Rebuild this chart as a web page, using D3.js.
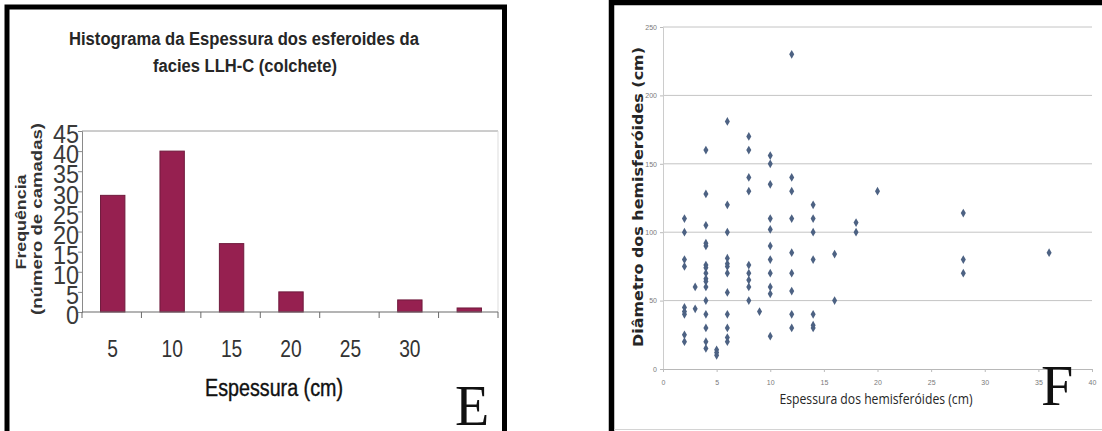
<!DOCTYPE html>
<html>
<head>
<meta charset="utf-8">
<script src="https://cdn.jsdelivr.net/npm/d3@7"></script>
<style>
  body { margin: 0; background: #fff; }
  svg { display: block; }
</style>
</head>
<body>
<svg id="chart" width="1102" height="431"></svg>
<script>
/* global d3: false */

// Panel E: histogram
const histCategories = ['5', '10', '15', '20', '25', '30', ''];
const histCounts = [29, 40, 17, 5, 0, 3, 1];
const histTicks = [0, 5, 10, 15, 20, 25, 30, 35, 40, 45];

// Panel F: scatter (espessura x diametro), one line per thickness column
const scatterThickness = [
  2, 2, 2, 2, 2, 2, 2, 2, 2,
  3, 3,
  4, 4, 4, 4, 4, 4, 4, 4, 4, 4, 4, 4, 4, 4, 4, 4,
  5, 5, 5,
  6, 6, 6, 6, 6, 6, 6, 6, 6, 6, 6, 6,
  8, 8, 8, 8, 8, 8, 8, 8, 8,
  9,
  10, 10, 10, 10, 10, 10, 10, 10, 10, 10, 10,
  12, 12, 12, 12, 12, 12, 12, 12, 12,
  14, 14, 14, 14, 14, 14, 14,
  16, 16,
  18, 18,
  20,
  28, 28, 28,
  36];
const scatterDiameter = [
  110, 100, 80, 75, 45, 42, 40, 25, 20,
  60, 44,
  160, 128, 105, 92, 90, 76, 74, 70, 66, 64, 60, 50, 40, 30, 20, 15,
  14, 12, 10,
  181, 120, 100, 81, 77, 75, 70, 56, 40, 30, 23, 20,
  170, 160, 140, 130, 76, 70, 65, 60, 50,
  42,
  156, 150, 135, 110, 102, 90, 80, 70, 60, 55, 24,
  230, 140, 130, 110, 85, 70, 57, 40, 30,
  120, 110, 100, 80, 40, 32, 30,
  84, 50,
  107, 100,
  130,
  114, 80, 70,
  85];
const scatterXTicks = [0, 5, 10, 15, 20, 25, 30, 35, 40];
const scatterYTicks = [0, 50, 100, 150, 200, 250];

const svg = d3.select('#chart');

// ---------- panel frames ----------
svg.append('rect')
  .attr('x', 7).attr('y', 7)
  .attr('width', 497.5).attr('height', 440)
  .attr('fill', '#fff')
  .attr('stroke', '#000')
  .attr('stroke-width', 5);

svg.append('rect')
  .attr('x', 611.5).attr('y', 2.5)
  .attr('width', 520).attr('height', 460)
  .attr('fill', '#fff')
  .attr('stroke', '#000')
  .attr('stroke-width', 5.5);
svg.append('line')
  .attr('x1', 614).attr('x2', 1102)
  .attr('y1', 429.5).attr('y2', 429.5)
  .attr('stroke', '#d4d4d4');

// ---------- panel E ----------
const ex = d3.scaleBand(histCategories, [82, 498]).padding(0);
const ey = d3.scaleLinear([0, 45], [312, 131]);
const gE = svg.append('g');

// plot frame
gE.append('line')
  .attr('x1', 82).attr('x2', 498)
  .attr('y1', ey(45)).attr('y2', ey(45))
  .attr('stroke', '#9a9a9a');
gE.append('line')
  .attr('x1', 498).attr('x2', 498)
  .attr('y1', ey(45)).attr('y2', ey(0))
  .attr('stroke', '#dddddd');

const barW = ex.bandwidth() * 0.41;
gE.append('g')
  .selectAll('rect')
  .data(histCounts)
  .join('rect')
  .attr('x', (d, i) => ex(histCategories[i]) + ex.bandwidth() / 2 - barW / 2 + 1)
  .attr('y', d => ey(d))
  .attr('width', barW)
  .attr('height', d => ey(0) - ey(d))
  .attr('fill', '#962050')
  .attr('stroke', '#6f1a3c')
  .attr('stroke-width', 1);

// y axis
const yAxisE = gE.append('g')
  .attr('transform', 'translate(82,0)')
  .call(d3.axisLeft(ey).tickValues(histTicks).tickSize(4).tickPadding(3));
yAxisE.select('.domain').attr('stroke', '#8a8a8a');
yAxisE.selectAll('.tick line').attr('stroke', '#8a8a8a');
yAxisE.selectAll('.tick text')
  .attr('font-family', 'Liberation Sans, Arial, sans-serif')
  .attr('font-size', 26)
  .attr('fill', '#3a3a3a')
  .attr('x', -3 / 0.9)
  .attr('dy', '0.45em')
  .attr('transform', 'scale(0.9,1)');

// x axis
const xAxisE = gE.append('g')
  .attr('transform', `translate(0,${ey(0)})`);
xAxisE.append('line')
  .attr('x1', 82).attr('x2', 498)
  .attr('stroke', '#6a6a6a').attr('stroke-width', 1.2);
xAxisE.selectAll('line.bound')
  .data(d3.range(histCategories.length + 1))
  .join('line')
  .attr('class', 'bound')
  .attr('x1', i => ex.range()[0] + i * ex.step())
  .attr('x2', i => ex.range()[0] + i * ex.step())
  .attr('y1', 0).attr('y2', 6)
  .attr('stroke', '#6a6a6a');
xAxisE.selectAll('text')
  .data(histCategories)
  .join('text')
  .attr('transform', d => `translate(${ex(d) + ex.bandwidth() / 2 + 1},45) scale(0.8,1)`)
  .attr('text-anchor', 'middle')
  .attr('font-family', 'Liberation Sans, Arial, sans-serif')
  .attr('font-size', 24)
  .attr('fill', '#333')
  .text(d => d);

// titles
gE.append('text')
  .attr('x', 244).attr('y', 45)
  .attr('text-anchor', 'middle')
  .attr('font-family', 'Liberation Sans, Arial, sans-serif')
  .attr('font-weight', 'bold')
  .attr('font-size', 18)
  .attr('fill', '#262626')
  .attr('textLength', 350)
  .attr('lengthAdjust', 'spacingAndGlyphs')
  .text('Histograma da Espessura dos esferoides da');
gE.append('text')
  .attr('x', 245).attr('y', 72)
  .attr('text-anchor', 'middle')
  .attr('font-family', 'Liberation Sans, Arial, sans-serif')
  .attr('font-weight', 'bold')
  .attr('font-size', 18)
  .attr('fill', '#262626')
  .attr('textLength', 184)
  .attr('lengthAdjust', 'spacingAndGlyphs')
  .text('facies LLH-C (colchete)');

gE.append('text')
  .attr('transform', 'translate(26,222) rotate(-90)')
  .attr('text-anchor', 'middle')
  .attr('font-family', 'Liberation Sans, Arial, sans-serif')
  .attr('font-weight', 'bold')
  .attr('font-size', 15)
  .attr('fill', '#333')
  .attr('textLength', 95)
  .attr('lengthAdjust', 'spacingAndGlyphs')
  .text('Frequência');
gE.append('text')
  .attr('transform', 'translate(42,219) rotate(-90)')
  .attr('text-anchor', 'middle')
  .attr('font-family', 'Liberation Sans, Arial, sans-serif')
  .attr('font-weight', 'bold')
  .attr('font-size', 15)
  .attr('fill', '#333')
  .attr('textLength', 192)
  .attr('lengthAdjust', 'spacingAndGlyphs')
  .text('(número de camadas)');

gE.append('text')
  .attr('x', 274).attr('y', 396)
  .attr('text-anchor', 'middle')
  .attr('font-family', 'Liberation Sans, Arial, sans-serif')
  .attr('font-size', 23)
  .attr('fill', '#111')
  .attr('stroke', '#111')
  .attr('stroke-width', 0.4)
  .attr('textLength', 138)
  .attr('lengthAdjust', 'spacingAndGlyphs')
  .text('Espessura (cm)');

gE.append('text')
  .attr('x', 455).attr('y', 425)
  .attr('font-family', 'Liberation Serif, Times New Roman, serif')
  .attr('font-size', 56)
  .attr('fill', '#111')
  .text('E');

// ---------- panel F ----------
const fx = d3.scaleLinear([0, 40], [663, 1092]);
const fy = d3.scaleLinear([0, 250], [369, 27]);
const gF = svg.append('g');

gF.append('g')
  .selectAll('line')
  .data(scatterYTicks.filter(d => d > 0))
  .join('line')
  .attr('x1', fx(0)).attr('x2', fx(40))
  .attr('y1', d => fy(d)).attr('y2', d => fy(d))
  .attr('stroke', '#c4c4c4');

const yAxisF = gF.append('g')
  .attr('transform', `translate(${fx(0)},0)`)
  .call(d3.axisLeft(fy).tickValues(scatterYTicks).tickSize(3).tickPadding(3));
yAxisF.select('.domain').attr('stroke', '#cccccc');
yAxisF.selectAll('.tick line').attr('stroke', '#bbbbbb');
yAxisF.selectAll('.tick text')
  .attr('font-family', 'Liberation Sans, Arial, sans-serif')
  .attr('font-size', 7)
  .attr('fill', '#7a7a7a');

const xAxisF = gF.append('g')
  .attr('transform', `translate(0,${fy(0)})`)
  .call(d3.axisBottom(fx).tickValues(scatterXTicks).tickSize(3).tickPadding(8));
xAxisF.select('.domain').attr('stroke', '#b8b8b8');
xAxisF.selectAll('.tick line').attr('stroke', '#bbbbbb');
xAxisF.selectAll('.tick text')
  .attr('font-family', 'Liberation Sans, Arial, sans-serif')
  .attr('font-size', 7)
  .attr('fill', '#7a7a7a');

const diamond = d3.symbol(d3.symbolDiamond, 22);
gF.append('g')
  .selectAll('path')
  .data(scatterThickness)
  .join('path')
  .attr('transform', (d, i) => `translate(${fx(d)},${fy(scatterDiameter[i])})`)
  .attr('d', diamond)
  .attr('fill', '#4d6283');

gF.append('text')
  .attr('transform', 'translate(643,197) rotate(-90)')
  .attr('text-anchor', 'middle')
  .attr('font-family', 'DejaVu Sans, Verdana, sans-serif')
  .attr('font-weight', 'bold')
  .attr('font-size', 14)
  .attr('fill', '#262626')
  .attr('textLength', 300)
  .attr('lengthAdjust', 'spacingAndGlyphs')
  .text('Diâmetro dos hemisferóides (cm)');

gF.append('text')
  .attr('x', 876).attr('y', 404)
  .attr('text-anchor', 'middle')
  .attr('font-family', 'Open Sans, Liberation Sans, sans-serif')
  .attr('font-size', 14)
  .attr('fill', '#262626')
  .attr('textLength', 193)
  .attr('lengthAdjust', 'spacingAndGlyphs')
  .text('Espessura dos hemisferóides (cm)');

gF.append('text')
  .attr('x', 1041).attr('y', 405)
  .attr('font-family', 'Liberation Serif, Times New Roman, serif')
  .attr('font-size', 58)
  .attr('fill', '#111')
  .text('F');
</script>
</body>
</html>
